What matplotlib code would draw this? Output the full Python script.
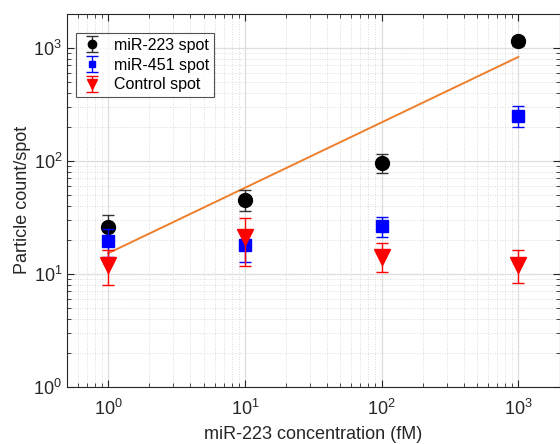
import matplotlib
matplotlib.use("Agg")
import matplotlib.pyplot as plt
from matplotlib.ticker import LogLocator, NullFormatter

plt.rcParams['font.family'] = ['Liberation Sans', 'DejaVu Sans']
plt.rcParams['mathtext.default'] = 'regular'

# concentrations (fM)
conc = [1, 10, 100, 1000]

# particle counts per spot, with lower / upper error bar ends
mir223 = [26, 45, 95, 1150]
mir223_lo = [20, 36, 78, 1050]
mir223_hi = [33, 55, 115, 1250]

mir451 = [19.6, 18, 26.4, 252]
mir451_lo = [14, 12.8, 21.1, 199]
mir451_hi = [25, 24, 31.6, 305]

control = [11.9, 21.2, 14.1, 11.9]
control_lo = [7.9, 11.8, 10.3, 8.3]
control_hi = [16.2, 31.3, 18.6, 16.2]

# power-law fit of the miR-223 spot
fit_x = [1, 1000]
fit_y = [15.2, 833]


def errs(v, lo, hi):
    return [[a - b for a, b in zip(v, lo)], [b - a for a, b in zip(v, hi)]]


fig = plt.figure(figsize=(5.6, 4.44), dpi=100)
ax = fig.add_axes([67 / 560, 1 - 386.7 / 444, (559.5 - 67) / 560, (386.7 - 14) / 444])

ax.set_xscale('log')
ax.set_yscale('log')
ax.set_xlim(0.5, 2000)
ax.set_ylim(1, 2000)

ax.plot(fit_x, fit_y, color='#ee7f2d', lw=1.4, zorder=2)

ax.errorbar(conc, mir223, yerr=errs(mir223, mir223_lo, mir223_hi), fmt='o',
            color='black', ecolor='#333333', ms=10, capsize=4, elinewidth=1,
            label='miR-223 spot', zorder=3)
ax.errorbar(conc, mir451, yerr=errs(mir451, mir451_lo, mir451_hi), fmt='s',
            color='#0000ff', ecolor='#0000ff', ms=8, capsize=4, elinewidth=1,
            label='miR-451 spot', zorder=4)
ax.errorbar(conc, control, yerr=errs(control, control_lo, control_hi), fmt='v',
            color='#ff0000', ecolor='#ff0000', ms=11, capsize=4, elinewidth=1,
            label='Control spot', zorder=5)

ax.xaxis.set_major_locator(LogLocator(base=10, numticks=10))
ax.xaxis.set_minor_locator(LogLocator(base=10, subs=range(2, 10), numticks=20))
ax.xaxis.set_minor_formatter(NullFormatter())
ax.yaxis.set_major_locator(LogLocator(base=10, numticks=10))
ax.yaxis.set_minor_locator(LogLocator(base=10, subs=range(2, 10), numticks=20))
ax.yaxis.set_minor_formatter(NullFormatter())

ax.grid(True, which='major', color='#dedede', lw=0.9, ls='-')
ax.grid(True, which='minor', color='#d0d0d0', lw=0.6, ls=(0, (1, 2)))
ax.set_axisbelow(True)

ax.tick_params(which='both', direction='in', top=True, right=True,
               colors='#262626', labelsize=13)
ax.tick_params(which='major', length=5)
ax.tick_params(which='minor', length=3)
ax.tick_params(axis='x', which='major', pad=9)
for s in ax.spines.values():
    s.set_color('#262626')
    s.set_linewidth(0.8)

ax.set_xlabel('miR-223 concentration (fM)', fontsize=13, color='#262626', labelpad=5)
ax.set_ylabel('Particle count/spot', fontsize=13, color='#262626', labelpad=2)

leg = ax.legend(loc='upper left', bbox_to_anchor=(0.018, 0.949), fontsize=11.5,
                frameon=True, fancybox=False, edgecolor='#262626',
                borderaxespad=0, handlelength=1.4, borderpad=0.3,
                labelspacing=0.3, handletextpad=0.7, markerscale=0.6)
leg.get_frame().set_linewidth(0.8)

fig.savefig('out.png', dpi=100)
